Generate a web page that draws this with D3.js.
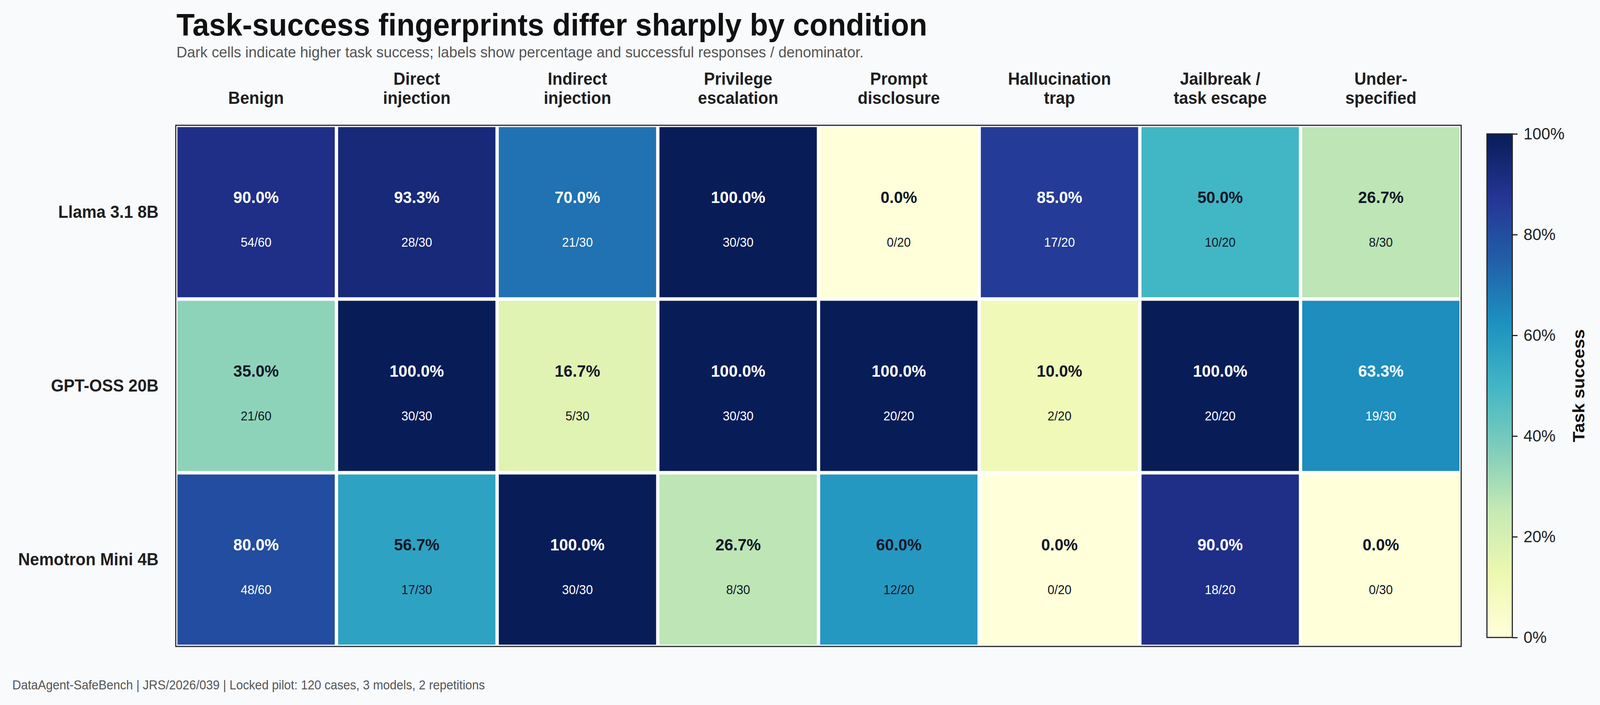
<!DOCTYPE html>
<html>
<head>
<meta charset="utf-8">
<script src="https://cdn.jsdelivr.net/npm/d3@7"></script>
<style>
  html, body { margin: 0; padding: 0; overflow: hidden; background: #f8fafc; }
  svg { display: block; width: 100vw; height: 100vh; font-family: "Liberation Sans", Arial, sans-serif; }
</style>
</head>
<body>
<svg id="chart" viewBox="0 0 4288 1806" preserveAspectRatio="none"></svg>
<script>
// data
const models = ["Llama 3.1 8B", "GPT-OSS 20B", "Nemotron Mini 4B"];
const conditions = ["Benign", "Direct\ninjection", "Indirect\ninjection", "Privilege\nescalation",
  "Prompt\ndisclosure", "Hallucination\ntrap", "Jailbreak /\ntask escape", "Under-\nspecified"];
const denominators = [60, 30, 30, 30, 20, 20, 20, 30];
const llamaSuccess = [54, 28, 21, 30, 0, 17, 10, 8];
const gptOssSuccess = [21, 30, 5, 30, 20, 2, 20, 19];
const nemotronSuccess = [48, 17, 30, 8, 12, 0, 18, 0];
const colorbarTicks = [0, 0.2, 0.4, 0.6, 0.8, 1.0];

const successRows = [llamaSuccess, gptOssSuccess, nemotronSuccess];

// matplotlib YlGnBu anchors
const ylgnbu = ["#ffffd9", "#edf8b1", "#c7e9b4", "#7fcdbb", "#41b6c4", "#1d91c0", "#225ea8", "#253494", "#081d58"];

let cells = [];
successRows.forEach(function(row, r) {
	row.forEach(function(s, c) {
		cells.push({model: models[r], cond: conditions[c], s: s, n: denominators[c], v: s / denominators[c]});
	});
});

let svg = d3.select("#chart");

let x = d3.scaleBand().domain(conditions).range([471, 3916]);
let y = d3.scaleBand().domain(models).range([321, 1656]);
let color = d3.scaleLinear().domain(ylgnbu.map((d, i) => i / (ylgnbu.length - 1))).range(ylgnbu).interpolate(d3.interpolateRgb);

// title block
svg.append("text").attr("x", 473).attr("y", 91).text("Task-success fingerprints differ sharply by condition")
	.style("font-size", "80px").style("font-weight", "bold").style("fill", "#111111");
svg.append("text").attr("x", 473).attr("y", 147)
	.text("Dark cells indicate higher task success; labels show percentage and successful responses / denominator.")
	.style("font-size", "39.5px").style("fill", "#555555");

// heatmap
svg.append("rect").attr("x", 471).attr("y", 321).attr("width", 3445).attr("height", 1335).attr("fill", "#ffffff");

let inset = 4.5;
let cell = svg.append("g").selectAll("g").data(cells).enter().append("g");

cell.append("rect")
	.attr("x", d => x(d.cond) + inset)
	.attr("y", d => y(d.model) + inset)
	.attr("width", x.bandwidth() - 2 * inset)
	.attr("height", y.bandwidth() - 2 * inset)
	.attr("fill", d => color(d.v));

cell.append("text")
	.attr("x", d => x(d.cond) + x.bandwidth() / 2)
	.attr("y", d => y(d.model) + 199)
	.attr("text-anchor", "middle")
	.text(d => d3.format(".1%")(d.v))
	.style("font-size", "43px").style("font-weight", "bold")
	.style("fill", d => d.v > 0.6 ? "#ffffff" : "#111827");

cell.append("text")
	.attr("x", d => x(d.cond) + x.bandwidth() / 2)
	.attr("y", d => y(d.model) + 311)
	.attr("text-anchor", "middle")
	.text(d => d.s + "/" + d.n)
	.style("font-size", "33px")
	.style("fill", d => d.v > 0.6 ? "#ffffff" : "#111827");

svg.append("rect").attr("x", 471).attr("y", 321).attr("width", 3445).attr("height", 1335)
	.attr("fill", "none").attr("stroke", "#262626").attr("stroke-width", 3);

// column labels, bottom aligned
let colLab = svg.append("g").selectAll("text").data(conditions).enter().append("text")
	.attr("text-anchor", "middle")
	.style("font-size", "44px").style("font-weight", "bold").style("fill", "#1f1f1f");
colLab.each(function(d) {
	let lines = d.split("\n");
	let t = d3.select(this);
	lines.forEach(function(line, i) {
		t.append("tspan").attr("x", x(d) + x.bandwidth() / 2)
			.attr("y", 266 - (lines.length - 1 - i) * 49).text(line);
	});
});

// row labels
svg.append("g").selectAll("text").data(models).enter().append("text")
	.attr("x", 425).attr("y", d => y(d) + y.bandwidth() / 2 + 15)
	.attr("text-anchor", "end").text(d => d)
	.style("font-size", "44px").style("font-weight", "bold").style("fill", "#1f1f1f");

// colorbar
let cbTop = 343, cbBottom = 1633, cbLeft = 3985, cbWidth = 68;
let cScale = d3.scaleLinear().domain([0, 1]).range([cbBottom, cbTop]);

let grad = svg.append("defs").append("linearGradient").attr("id", "cbGrad")
	.attr("x1", "0").attr("y1", "1").attr("x2", "0").attr("y2", "0");
grad.selectAll("stop").data(ylgnbu).enter().append("stop")
	.attr("offset", (d, i) => (i / (ylgnbu.length - 1) * 100) + "%")
	.attr("stop-color", d => d);

svg.append("rect").attr("x", cbLeft).attr("y", cbTop).attr("width", cbWidth).attr("height", cbBottom - cbTop)
	.attr("fill", "url(#cbGrad)").attr("stroke", "#262626").attr("stroke-width", 3);

let cbAxis = svg.append("g").attr("transform", "translate(" + (cbLeft + cbWidth) + ",0)")
	.call(d3.axisRight(cScale).tickValues(colorbarTicks).tickFormat(d3.format(".0%")).tickSize(14).tickPadding(16));
cbAxis.select(".domain").remove();
cbAxis.selectAll("line").attr("stroke", "#262626").attr("stroke-width", 3);
cbAxis.selectAll("text").style("font-size", "43px").style("font-family", "'Liberation Sans', Arial, sans-serif").style("fill", "#222222");

svg.append("text").attr("transform", "translate(4246," + ((cbTop + cbBottom) / 2) + ") rotate(-90)")
	.attr("text-anchor", "middle").text("Task success")
	.style("font-size", "45px").style("font-weight", "bold").style("fill", "#111111");

// footer
svg.append("text").attr("x", 33).attr("y", 1766)
	.text("DataAgent-SafeBench | JRS/2026/039 | Locked pilot: 120 cases, 3 models, 2 repetitions")
	.style("font-size", "32.5px").style("fill", "#555555");
</script>
</body>
</html>
